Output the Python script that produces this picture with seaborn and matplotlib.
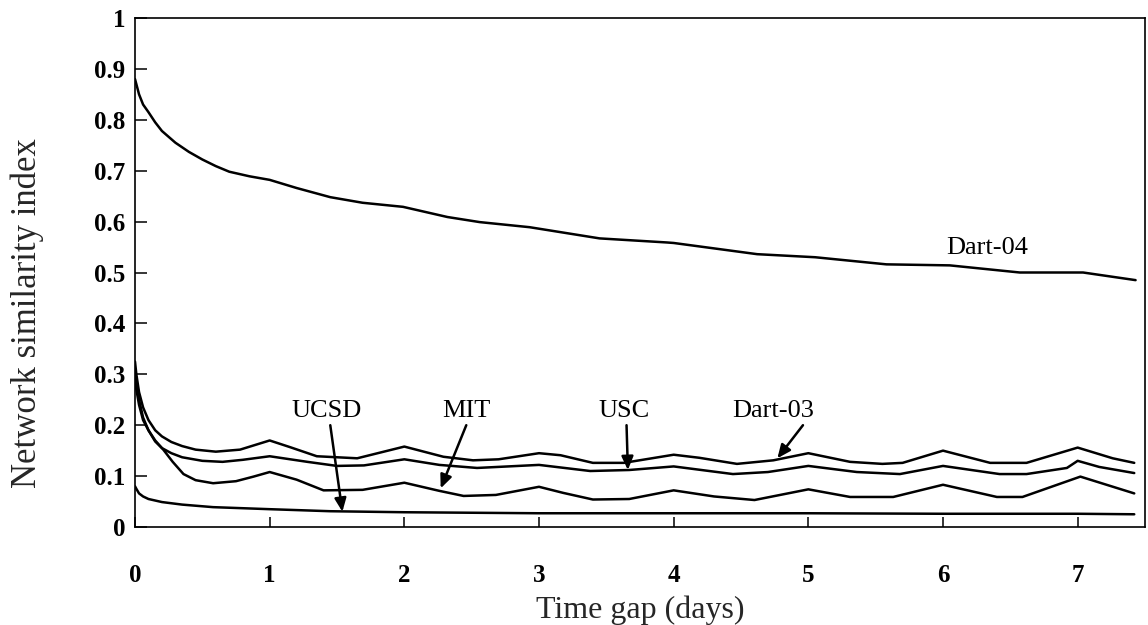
import matplotlib
matplotlib.use("Agg")
import matplotlib.pyplot as plt
import seaborn as sns
import pandas as pd

# ---- data ----
dart04_x = [0, 0.01, 0.03, 0.06, 0.1, 0.15, 0.2, 0.3, 0.4, 0.5, 0.6, 0.7, 0.85, 1.0,
            1.2, 1.45, 1.69, 1.99, 2.32, 2.56, 2.93, 3.45, 3.95, 4.0, 4.62, 5.05, 5.58,
            6.05, 6.57, 7.04, 7.43]
dart04_y = [0.88, 0.87, 0.85, 0.83, 0.815, 0.795, 0.778, 0.755, 0.737, 0.722, 0.709,
            0.698, 0.689, 0.682, 0.666, 0.648, 0.637, 0.629, 0.609, 0.599, 0.589, 0.567,
            0.559, 0.558, 0.536, 0.530, 0.516, 0.514, 0.500, 0.500, 0.485]

dart03_x = [0, 0.01, 0.03, 0.06, 0.1, 0.15, 0.2, 0.27, 0.35, 0.45, 0.6, 0.78, 1.0, 1.15,
            1.35, 1.65, 2.0, 2.29, 2.51, 2.7, 3.0, 3.16, 3.4, 3.63, 4.0, 4.19, 4.47, 4.74,
            5.0, 5.31, 5.55, 5.7, 6.0, 6.35, 6.62, 7.0, 7.26, 7.42]
dart03_y = [0.325, 0.30, 0.265, 0.235, 0.21, 0.19, 0.178, 0.167, 0.159, 0.152, 0.148,
            0.152, 0.170, 0.157, 0.139, 0.135, 0.158, 0.138, 0.131, 0.133, 0.145, 0.141,
            0.126, 0.126, 0.142, 0.136, 0.124, 0.131, 0.145, 0.128, 0.124, 0.126, 0.150,
            0.126, 0.126, 0.156, 0.135, 0.126]

usc_x = [0, 0.01, 0.03, 0.06, 0.1, 0.15, 0.2, 0.27, 0.35, 0.5, 0.65, 0.8, 1.0, 1.28,
         1.5, 1.7, 2.0, 2.26, 2.54, 3.0, 3.38, 3.67, 4.0, 4.44, 4.7, 5.0, 5.36, 5.68, 6.0,
         6.42, 6.62, 6.92, 7.0, 7.16, 7.42]
usc_y = [0.30, 0.28, 0.25, 0.215, 0.19, 0.168, 0.155, 0.145, 0.137, 0.130, 0.128, 0.132,
         0.139, 0.128, 0.120, 0.121, 0.133, 0.122, 0.116, 0.122, 0.110, 0.112, 0.119,
         0.104, 0.108, 0.120, 0.108, 0.104, 0.120, 0.104, 0.104, 0.116, 0.130, 0.118, 0.106]

mit_x = [0, 0.01, 0.03, 0.06, 0.1, 0.15, 0.21, 0.28, 0.36, 0.45, 0.58, 0.75, 0.88, 1.0,
         1.2, 1.4, 1.69, 2.0, 2.26, 2.44, 2.68, 3.0, 3.18, 3.4, 3.67, 4.0, 4.3, 4.6, 5.0,
         5.31, 5.63, 6.0, 6.4, 6.59, 7.02, 7.42]
mit_y = [0.29, 0.27, 0.24, 0.21, 0.19, 0.17, 0.152, 0.128, 0.104, 0.092, 0.086, 0.090,
         0.099, 0.108, 0.093, 0.072, 0.073, 0.087, 0.071, 0.061, 0.063, 0.079, 0.067,
         0.054, 0.055, 0.072, 0.060, 0.053, 0.074, 0.059, 0.059, 0.083, 0.059, 0.059,
         0.099, 0.066]

ucsd_x = [0, 0.01, 0.03, 0.06, 0.1, 0.2, 0.35, 0.58, 1.0, 1.45, 2.0, 3.0, 4.0, 5.0,
          6.0, 7.0, 7.42]
ucsd_y = [0.08, 0.075, 0.066, 0.060, 0.055, 0.049, 0.044, 0.039, 0.035, 0.031, 0.029,
          0.027, 0.027, 0.027, 0.026, 0.026, 0.025]

x_ticks = [0, 1, 2, 3, 4, 5, 6, 7]
y_ticks = [0, 0.1, 0.2, 0.3, 0.4, 0.5, 0.6, 0.7, 0.8, 0.9, 1]
y_tick_labels = ["0", "0.1", "0.2", "0.3", "0.4", "0.5", "0.6", "0.7", "0.8", "0.9", "1"]

series = {
    "Dart-04": (dart04_x, dart04_y),
    "Dart-03": (dart03_x, dart03_y),
    "USC": (usc_x, usc_y),
    "MIT": (mit_x, mit_y),
    "UCSD": (ucsd_x, ucsd_y),
}

# ---- styling ----
sns.set_style("white")
plt.rcParams["font.family"] = ["Liberation Serif", "DejaVu Serif"]

fig = plt.figure(figsize=(11.48, 6.25), dpi=100)
ax = fig.add_axes([0.1176, 0.1568, 0.8798, 0.8144])

for name, (xs, ys) in series.items():
    df = pd.DataFrame({"x": xs, "y": ys})
    sns.lineplot(data=df, x="x", y="y", color="black", linewidth=1.8, ax=ax,
                 estimator=None, sort=False)

ax.set_xlim(0, 7.5)
ax.set_ylim(0, 1)
ax.set_xticks(x_ticks)
ax.set_xticklabels([str(t) for t in x_ticks])
ax.set_yticks(y_ticks)
ax.set_yticklabels(y_tick_labels)

for s in ax.spines.values():
    s.set_visible(True)
    s.set_color("black")
    s.set_linewidth(1.2)

ax.tick_params(axis="y", direction="in", length=8.5, width=1.1, pad=7,
               labelsize=18, left=True, right=False, colors="black")
ax.tick_params(axis="x", direction="in", length=7, width=1.1, pad=27,
               labelsize=18, bottom=True, top=False, colors="black")
for lab in ax.get_xticklabels() + ax.get_yticklabels():
    lab.set_fontweight("bold")

ax.set_xlabel("Time gap (days)", fontsize=23, va="center")
ax.set_ylabel("Network similarity index", fontsize=25, va="center")
ax.xaxis.set_label_coords(0.5, -0.163)
ax.yaxis.set_label_coords(-0.107, 0.42)

# ---- labels and arrows ----
text_kw = dict(fontsize=19, ha="center", va="center", color="black")
ax.text(6.33, 0.548, "Dart-04", **text_kw)
ax.text(1.42, 0.228, "UCSD", **text_kw)
ax.text(2.46, 0.228, "MIT", **text_kw)
ax.text(3.63, 0.228, "USC", **text_kw)
ax.text(4.74, 0.228, "Dart-03", **text_kw)

arrow_kw = dict(arrowstyle="-|>,head_length=0.8,head_width=0.35", color="black",
                lw=1.8, shrinkA=0, shrinkB=0)
ax.annotate("", xy=(1.54, 0.030), xytext=(1.45, 0.200), arrowprops=arrow_kw)
ax.annotate("", xy=(2.27, 0.076), xytext=(2.46, 0.200), arrowprops=arrow_kw)
ax.annotate("", xy=(3.66, 0.112), xytext=(3.65, 0.200), arrowprops=arrow_kw)
ax.annotate("", xy=(4.77, 0.135), xytext=(4.96, 0.200), arrowprops=arrow_kw)

fig.savefig("out.png", dpi=100, facecolor="white")
